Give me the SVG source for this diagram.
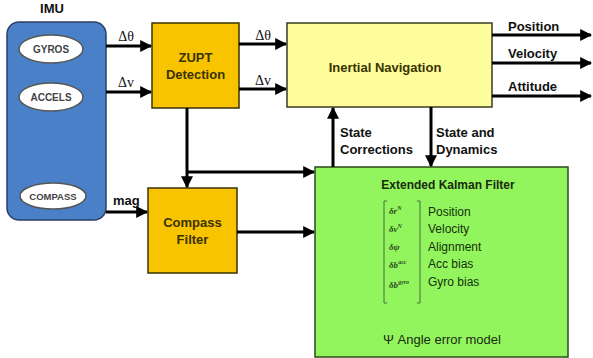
<svg xmlns="http://www.w3.org/2000/svg" width="593" height="358" viewBox="0 0 593 358">
<style>
.lbl{font-family:"Liberation Sans",Arial,sans-serif;font-weight:bold;font-size:13px;fill:#111}
.sym{font-family:"Liberation Serif","Times New Roman",serif;font-size:14px;fill:#111}
.node{font-family:"Liberation Sans",Arial,sans-serif;font-weight:bold;font-size:13px;fill:#3a3200;text-anchor:middle}
.ell{fill:#fff;stroke:#555;stroke-width:1.5}
.etxt{font-family:"Liberation Sans",Arial,sans-serif;font-weight:bold;font-size:10px;fill:#444;text-anchor:middle}
.ekf{font-family:"Liberation Sans",Arial,sans-serif;font-size:12px;fill:#15300c}
.m{font-family:"Liberation Serif","Times New Roman",serif;font-style:italic;font-weight:bold;font-size:9px;fill:#2a4a20}
.c{stroke:#000;stroke-width:3;fill:none}
</style>
<defs>
<marker id="ah" viewBox="0 0 10 10" refX="9" refY="5" markerWidth="4" markerHeight="4" orient="auto" markerUnits="strokeWidth">
<path d="M0,0 L10,5 L0,10 z" fill="#000"/>
</marker>
</defs>
<rect width="593" height="358" fill="#fff"/>

<g id="imu">
<text class="lbl" x="52" y="13" text-anchor="middle">IMU</text>
<rect x="7" y="22" width="99" height="198" rx="12" fill="#4a80c8" stroke="#2a3f66" stroke-width="1.5"/>
<ellipse class="ell" cx="51" cy="49" rx="32" ry="14"/>
<text class="etxt" x="51" y="52.5">GYROS</text>
<ellipse class="ell" cx="51" cy="97" rx="32" ry="14"/>
<text class="etxt" x="51" y="100.5">ACCELS</text>
<ellipse class="ell" cx="53" cy="196" rx="33" ry="13"/>
<text class="etxt" x="53" y="199.5" style="font-size:9.5px">COMPASS</text>
</g>

<g id="zupt">
<rect x="152" y="23" width="87" height="85" fill="#f8c400" stroke="#3a3200" stroke-width="1.5"/>
<text class="node" x="195.5" y="62">ZUPT</text>
<text class="node" x="195.5" y="79">Detection</text>
</g>

<g id="inertial-nav">
<rect x="287" y="23" width="205" height="84" fill="#fdfd9c" stroke="#3a3a20" stroke-width="1.5"/>
<text class="node" x="385" y="72">Inertial Navigation</text>
</g>

<g id="compass-filter">
<rect x="148" y="188" width="89" height="85" fill="#f8c400" stroke="#3a3200" stroke-width="1.5"/>
<text class="node" x="192.5" y="227">Compass</text>
<text class="node" x="192.5" y="244">Filter</text>
</g>

<g id="ekf">
<rect x="315" y="167" width="253" height="190" fill="#93f55e" stroke="#2a4a1a" stroke-width="1.5"/>
<text x="448" y="189" text-anchor="middle" style="font-family:'Liberation Sans',Arial,sans-serif;font-weight:bold;font-size:12px;fill:#1a2a10">Extended Kalman Filter</text>
<path d="M387,201 h-3 v102 h3 M417,201 h3 v102 h-3" fill="none" stroke="#4a6a40" stroke-width="1"/>
<text class="m" x="389" y="214">δr<tspan font-size="6" dy="-4">N</tspan></text>
<text class="m" x="389" y="232">δv<tspan font-size="6" dy="-4">N</tspan></text>
<text class="m" x="389" y="250">δψ</text>
<text class="m" x="389" y="268">δb<tspan font-size="6" dy="-4">acc</tspan></text>
<text class="m" x="389" y="288">δb<tspan font-size="6" dy="-4">gyro</tspan></text>
<text class="ekf" x="428" y="216">Position</text>
<text class="ekf" x="428" y="233">Velocity</text>
<text class="ekf" x="428" y="251">Alignment</text>
<text class="ekf" x="428" y="268">Acc bias</text>
<text class="ekf" x="428" y="286">Gyro bias</text>
<text x="442" y="344" text-anchor="middle" style="font-family:'Liberation Sans',Arial,sans-serif;font-size:13px;fill:#1a2a10">Ψ Angle error model</text>
</g>

<g id="connectors">
<line class="c" x1="106" y1="46" x2="151" y2="46" marker-end="url(#ah)"/>
<line class="c" x1="106" y1="92" x2="151" y2="92" marker-end="url(#ah)"/>
<line class="c" x1="106" y1="212" x2="147" y2="212" marker-end="url(#ah)"/>
<line class="c" x1="239" y1="44" x2="286" y2="44" marker-end="url(#ah)"/>
<line class="c" x1="239" y1="89" x2="286" y2="89" marker-end="url(#ah)"/>
<line class="c" x1="492" y1="35" x2="591" y2="35" marker-end="url(#ah)"/>
<line class="c" x1="492" y1="63" x2="591" y2="63" marker-end="url(#ah)"/>
<line class="c" x1="492" y1="96" x2="591" y2="96" marker-end="url(#ah)"/>
<line class="c" x1="187" y1="108" x2="187" y2="187" marker-end="url(#ah)"/>
<line class="c" x1="187" y1="172" x2="314" y2="172" marker-end="url(#ah)"/>
<line class="c" x1="237" y1="232" x2="314" y2="232" marker-end="url(#ah)"/>
<line class="c" x1="333" y1="167" x2="333" y2="108" marker-end="url(#ah)"/>
<line class="c" x1="431" y1="107" x2="431" y2="166" marker-end="url(#ah)"/>
<text class="sym" x="126" y="41" text-anchor="middle">Δθ</text>
<text class="sym" x="126" y="87" text-anchor="middle">Δv</text>
<text class="lbl" x="113" y="205">mag</text>
<text class="sym" x="263" y="40" text-anchor="middle">Δθ</text>
<text class="sym" x="263" y="85" text-anchor="middle">Δv</text>
<text class="lbl" x="508" y="31">Position</text>
<text class="lbl" x="508" y="58">Velocity</text>
<text class="lbl" x="508" y="91">Attitude</text>
<text class="lbl" x="340" y="137">State</text>
<text class="lbl" x="340" y="154">Corrections</text>
<text class="lbl" x="436" y="137">State and</text>
<text class="lbl" x="436" y="154">Dynamics</text>
</g>
</svg>
